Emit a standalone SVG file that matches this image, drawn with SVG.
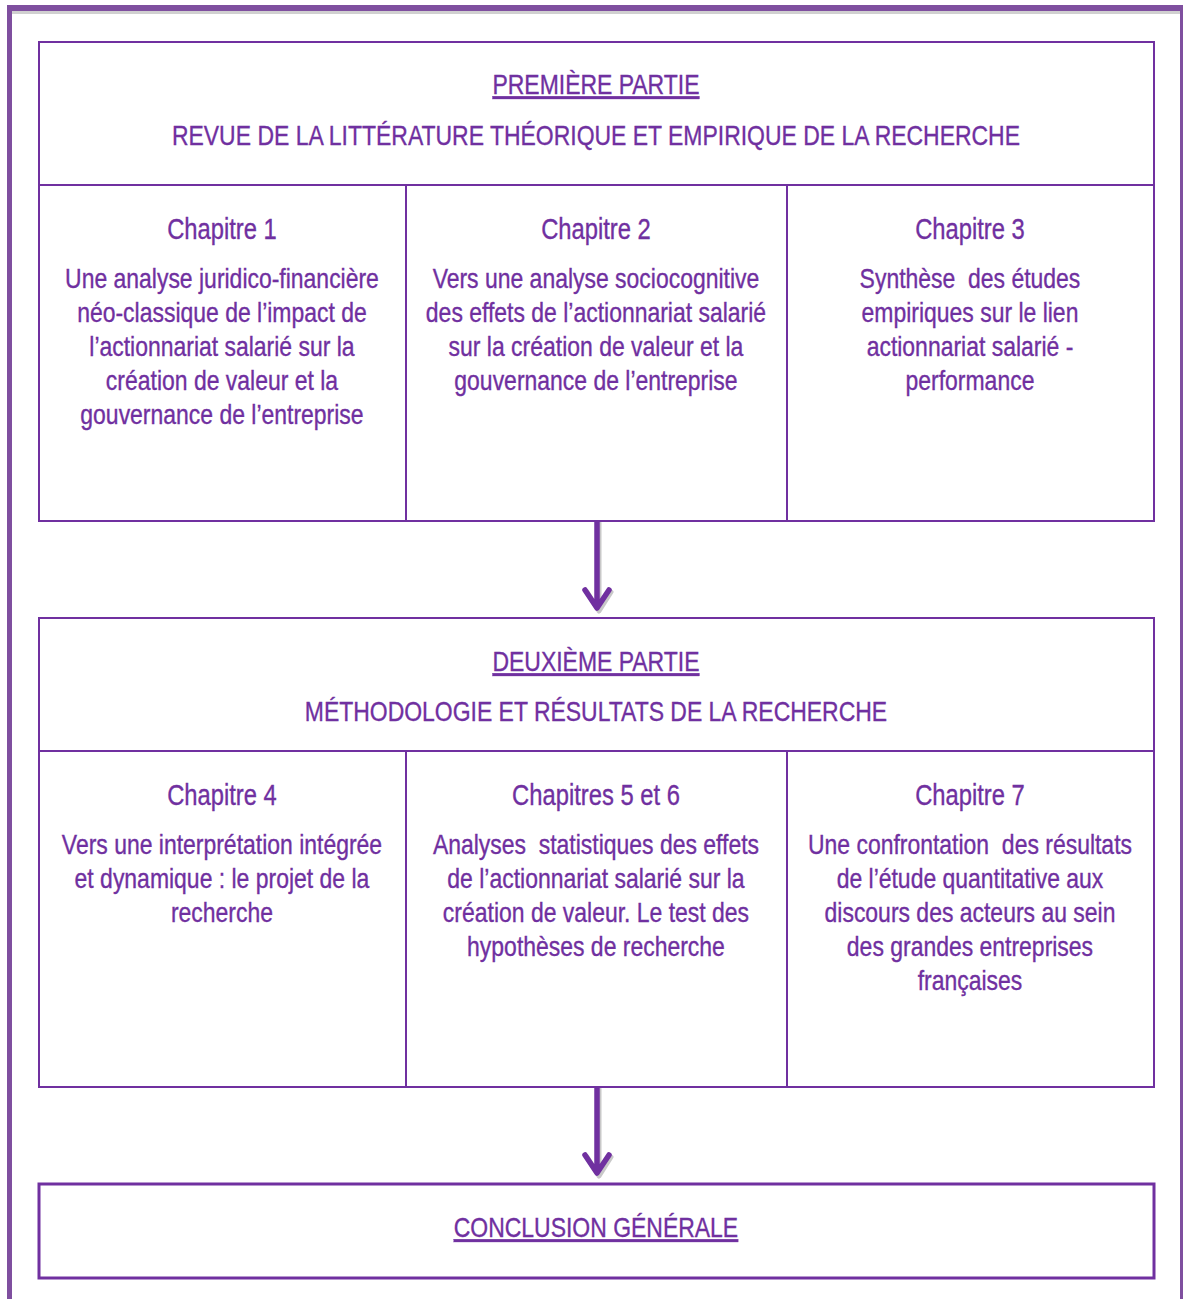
<svg xmlns="http://www.w3.org/2000/svg" width="1183" height="1299" viewBox="0 0 1183 1299">
<style>
.box{fill:#fff;stroke:#7030a0;stroke-width:2}
.div{stroke:#7030a0;stroke-width:2}
text{font-family:"Liberation Sans","Arial",sans-serif;font-size:28px;fill:#7030a0;stroke:#7030a0;stroke-width:0.35;text-anchor:middle;white-space:pre}
.h{font-size:29px}
.u{text-decoration:underline}
.arr{stroke:#7030a0;stroke-width:5.5;fill:none;stroke-linecap:round;stroke-linejoin:round}
.sh{stroke:#c8c8c8;stroke-width:5;fill:none;stroke-linecap:round;stroke-linejoin:round}
</style>
<rect width="1183" height="1299" fill="#fff"/>
<g id="frame">
<rect x="12" y="11" width="1168" height="3" fill="#d0d0d0"/>
<rect x="7" y="5" width="1176" height="6" fill="#7f4f9f"/>
<rect x="7" y="5" width="5" height="1294" fill="#7f4f9f"/>
<rect x="1180" y="5" width="3" height="1294" fill="#7f4f9f"/>
</g>
<g id="connectors">
<path class="sh" d="M599 523 V609 M587 592 L599 611 L611 592"/>
<path class="arr" d="M597 521 V607 M585 590 L597 608 L609 590"/>
<path class="sh" d="M599 1089 V1174 M587 1157 L599 1176 L611 1157"/>
<path class="arr" d="M597 1087 V1172 M585 1155 L597 1173 L609 1155"/>
</g>
<g id="partie1">
<rect class="box" x="39" y="42" width="1115" height="479"/>
<line class="div" x1="39" y1="185" x2="1154" y2="185"/>
<line class="div" x1="406" y1="185" x2="406" y2="521"/>
<line class="div" x1="787" y1="185" x2="787" y2="521"/>
<g transform="scale(0.82 1)">
<text x="726.8" y="94" class="u">PREMIÈRE PARTIE</text>
<text x="726.8" y="145">REVUE DE LA LITTÉRATURE THÉORIQUE ET EMPIRIQUE DE LA RECHERCHE</text>
</g>
</g>
<g id="chapitre1" transform="scale(0.82 1)">
<text x="270.7" y="239" class="h">Chapitre 1</text>
<text x="270.7" y="288">Une analyse juridico-financière</text>
<text x="270.7" y="322">néo-classique de l’impact de</text>
<text x="270.7" y="356">l’actionnariat salarié sur la</text>
<text x="270.7" y="390">création de valeur et la</text>
<text x="270.7" y="424">gouvernance de l’entreprise</text>
</g>
<g id="chapitre2" transform="scale(0.82 1)">
<text x="726.8" y="239" class="h">Chapitre 2</text>
<text x="726.8" y="288">Vers une analyse sociocognitive</text>
<text x="726.8" y="322">des effets de l’actionnariat salarié</text>
<text x="726.8" y="356">sur la création de valeur et la</text>
<text x="726.8" y="390">gouvernance de l’entreprise</text>
</g>
<g id="chapitre3" transform="scale(0.82 1)">
<text x="1182.9" y="239" class="h">Chapitre 3</text>
<text x="1182.9" y="288">Synthèse  des études</text>
<text x="1182.9" y="322">empiriques sur le lien</text>
<text x="1182.9" y="356">actionnariat salarié -</text>
<text x="1182.9" y="390">performance</text>
</g>
<g id="partie2">
<rect class="box" x="39" y="618" width="1115" height="469"/>
<line class="div" x1="39" y1="751" x2="1154" y2="751"/>
<line class="div" x1="406" y1="751" x2="406" y2="1087"/>
<line class="div" x1="787" y1="751" x2="787" y2="1087"/>
<g transform="scale(0.82 1)">
<text x="726.8" y="671" class="u">DEUXIÈME PARTIE</text>
<text x="726.8" y="721">MÉTHODOLOGIE ET RÉSULTATS DE LA RECHERCHE</text>
</g>
</g>
<g id="chapitre4" transform="scale(0.82 1)">
<text x="270.7" y="805" class="h">Chapitre 4</text>
<text x="270.7" y="854">Vers une interprétation intégrée</text>
<text x="270.7" y="888">et dynamique : le projet de la</text>
<text x="270.7" y="922">recherche</text>
</g>
<g id="chapitre56" transform="scale(0.82 1)">
<text x="726.8" y="805" class="h">Chapitres 5 et 6</text>
<text x="726.8" y="854">Analyses  statistiques des effets</text>
<text x="726.8" y="888">de l’actionnariat salarié sur la</text>
<text x="726.8" y="922">création de valeur. Le test des</text>
<text x="726.8" y="956">hypothèses de recherche</text>
</g>
<g id="chapitre7" transform="scale(0.82 1)">
<text x="1182.9" y="805" class="h">Chapitre 7</text>
<text x="1182.9" y="854">Une confrontation  des résultats</text>
<text x="1182.9" y="888">de l’étude quantitative aux</text>
<text x="1182.9" y="922">discours des acteurs au sein</text>
<text x="1182.9" y="956">des grandes entreprises</text>
<text x="1182.9" y="990">françaises</text>
</g>
<g id="conclusion">
<rect class="box" x="39" y="1184" width="1115" height="94" style="stroke-width:3"/>
<text x="726.8" y="1237" class="u" transform="scale(0.82 1)">CONCLUSION GÉNÉRALE</text>
</g>
</svg>
